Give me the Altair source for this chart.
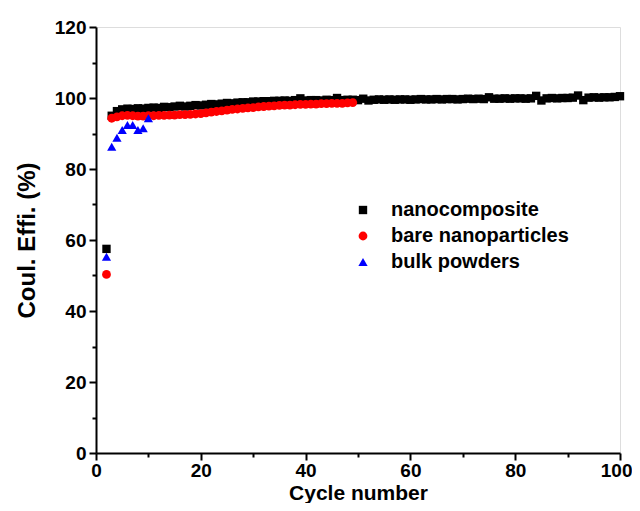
import altair as alt
import pandas as pd

series_names = ["nanocomposite", "bare nanoparticles", "bulk powders"]
colors = ["#000000", "#ff0000", "#0000ff"]
shapes = ["square", "circle", "triangle-up"]

nano_cycles = list(range(2, 101))
nano_values = [
    57.5, 95.0, 96.3, 96.8, 97.0, 96.9, 97.1, 97.0, 97.2, 97.3,
    97.2, 97.5, 97.4, 97.6, 97.8, 97.6, 97.8, 98.0, 97.9, 98.1,
    98.3, 98.2, 98.4, 98.6, 98.5, 98.7, 98.8, 98.8, 99.0, 99.0,
    99.1, 99.1, 99.2, 99.2, 99.3, 99.2, 99.4, 99.9, 99.3, 99.4,
    99.4, 99.3, 99.5, 99.4, 100.0, 99.4, 99.5, 99.5, 99.4, 99.8,
    99.3, 99.5, 99.6, 99.5, 99.6, 99.5, 99.6, 99.6, 99.5, 99.6,
    99.7, 99.6, 99.6, 99.7, 99.6, 99.7, 99.7, 99.6, 99.7, 99.8,
    99.7, 99.8, 99.7, 100.2, 99.8, 99.8, 99.9, 99.8, 99.9, 99.9,
    99.8, 99.9, 100.6, 99.3, 99.9, 100.0, 99.9, 100.0, 100.0, 100.1,
    100.7, 99.4, 100.1, 100.2, 100.1, 100.2, 100.2, 100.3, 100.5,
]

bare_cycles = list(range(2, 50))
bare_values = [
    50.3, 94.3, 94.7, 95.0, 95.1, 95.0, 94.9, 94.9, 95.0, 95.0,
    95.1, 95.1, 95.2, 95.2, 95.3, 95.3, 95.4, 95.5, 95.6, 95.8,
    96.0, 96.2, 96.4, 96.6, 96.8, 96.9, 97.1, 97.2, 97.3, 97.5,
    97.6, 97.7, 97.8, 97.9, 98.0, 98.0, 98.1, 98.2, 98.2, 98.3,
    98.3, 98.4, 98.4, 98.5, 98.5, 98.5, 98.6, 98.7,
]

bulk_cycles = list(range(2, 11))
bulk_values = [55.3, 86.3, 88.8, 91.0, 92.4, 92.4, 91.0, 91.5, 94.3]

x_major = list(range(0, 101, 20))
x_minor = list(range(10, 100, 20))
y_major = list(range(0, 121, 20))
y_minor = list(range(10, 120, 20))

rows = []
for name, cyc, val in [
    (series_names[0], nano_cycles, nano_values),
    (series_names[1], bare_cycles, bare_values),
    (series_names[2], bulk_cycles, bulk_values),
]:
    for c, v in zip(cyc, val):
        rows.append({"series": name, "cycle": c, "value": v})
df = pd.DataFrame(rows)
df["order"] = df["series"].map({n: i for i, n in enumerate(series_names)})

FONT = "Liberation Sans"
xs = alt.Scale(domain=[0, 100], nice=False)
ys = alt.Scale(domain=[0, 120], nice=False)

common = dict(grid=False, domainColor="black", domainWidth=2, ticks=True, tickColor="black", tickWidth=2,
              labelFont=FONT, labelFontSize=19, labelFontWeight="bold", labelColor="black",
              labelOverlap=False, titleFont=FONT, titleFontWeight="bold", titleColor="black")

x_axis = alt.Axis(
    values=x_major, tickSize=7, labelPadding=1, labelFlush=False,
    labelAlign={"condition": {"test": "datum.value === 100", "value": "right"}, "value": "center"},
    labelOffset={"condition": {"test": "datum.value === 100", "value": 12}, "value": 0},
    titleFontSize=21, titlePadding=2, orient="bottom", **common,
)
y_axis = alt.Axis(values=y_major, tickSize=7, labelPadding=3,
                  titleFontSize=24, titlePadding=15, orient="left", **common)

x_minor_axis = alt.Axis(values=x_minor, ticks=True, tickSize=4, tickWidth=2, tickColor="black", labels=False,
                        domain=False, grid=False, title=None, orient="bottom")
y_minor_axis = alt.Axis(values=y_minor, ticks=True, tickSize=4, tickWidth=2, tickColor="black", labels=False,
                        domain=False, grid=False, title=None, orient="left")

legend = alt.Legend(
    title=None, orient="none", legendX=257, legendY=173,
    labelFont=FONT, labelFontSize=20, labelFontWeight="bold", labelColor="black",
    labelOffset=18, rowPadding=6, padding=0, symbolSize=70, symbolStrokeWidth=0,
    labelLimit=0,
)

points = (
    alt.Chart(df)
    .mark_point(filled=True, opacity=1, strokeWidth=0)
    .encode(
        x=alt.X("cycle:Q", title="Cycle number", scale=xs, axis=x_axis),
        y=alt.Y("value:Q", title="Coul. Effi. (%)", scale=ys, axis=y_axis),
        color=alt.Color("series:N", scale=alt.Scale(domain=series_names, range=colors), legend=legend),
        shape=alt.Shape("series:N", scale=alt.Scale(domain=series_names, range=shapes), legend=legend),
        size=alt.Size("series:N", scale=alt.Scale(domain=series_names, range=[70, 85, 130]), legend=None),
        order=alt.Order("order:Q"),
    )
)

minor = (
    alt.Chart(df)
    .mark_point(opacity=0)
    .encode(
        x=alt.X("cycle:Q", scale=xs, axis=x_minor_axis),
        y=alt.Y("value:Q", scale=ys, axis=y_minor_axis),
    )
)

chart = (
    alt.layer(points, minor)
    .resolve_axis(x="independent", y="independent")
    .properties(
        width=524, height=426,
        autosize=alt.AutoSizeParams(type="none"),
        padding={"left": 88, "top": 19, "right": 12, "bottom": 50},
    )
    .configure_view(stroke="black", strokeWidth=2)
    .configure(background="white")
)

chart.save("out.html", embed_options={"renderer": "svg", "actions": False})
